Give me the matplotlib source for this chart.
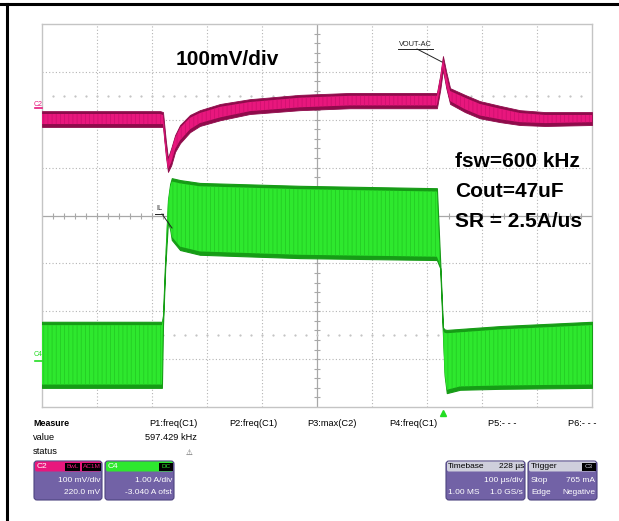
import numpy as np
import matplotlib
matplotlib.use('Agg')
import matplotlib.pyplot as plt
from matplotlib.patches import FancyBboxPatch, Rectangle
from matplotlib.lines import Line2D

# scope settings
c2_offset_mv = 220.0      # 100 mV/div, 220.0 mV offset
c2_scale_mv = 100.0
c4_offset_a = -3.040      # 1.00 A/div
c4_scale_a = 1.0
trig_t = 729              # trigger position, us from left edge

# C2 (VOUT-AC) envelope, time in us, values in mV
vout_t = [0, 215, 220, 225, 229, 235, 242, 251, 269, 287, 324, 378, 469, 560,
          718, 724, 729, 735, 742, 769, 796, 833, 869, 915, 1000]
vout_hi = [-2, -2, -4, -62, -100, -79, -52, -31, -10, 0, 13, 23, 32, 36,
           36, 73, 113, 80, 46, 32, 19, 9, 0, -4, -4]
vout_lo = [-35, -35, -35, -94, -129, -115, -87, -69, -46, -33, -21, -8, 0, 4,
           4, 42, 84, 46, 13, -4, -17, -25, -31, -33, -31]

# C4 (IL) envelope, time in us, values in A
il_t = [0, 218, 220, 224, 229, 233, 236, 251, 287, 469, 718, 724, 729, 732,
        736, 760, 833, 1000]
il_hi = [0.82, 0.82, 0.95, 2.11, 3.36, 3.70, 3.82, 3.78, 3.72, 3.66, 3.61,
         2.07, 0.70, 0.66, 0.65, 0.67, 0.73, 0.82]
il_lo = [-0.56, -0.56, 0.75, 1.95, 2.90, 2.75, 2.53, 2.32, 2.22, 2.15, 2.11,
         1.94, 0.55, -0.30, -0.67, -0.60, -0.58, -0.56]

measure_names = ['P1:freq(C1)', 'P2:freq(C1)', 'P3:max(C2)', 'P4:freq(C1)', 'P5:- - -', 'P6:- - -']
measure_vals = ['597.429 kHz', '', '', '', '', '']

W, H = 619, 521
fig = plt.figure(figsize=(W / 100, H / 100), dpi=100)
fig.patch.set_facecolor('white')

# plot grid area in pixels: x 42..592, y 24..407
x0, x1, y0, y1 = 42, 592, 24, 407
ax = fig.add_axes([x0 / W, 1 - y1 / H, (x1 - x0) / W, (y1 - y0) / H])
ax.set_xlim(0, 1000)
ax.set_ylim(-4, 4)
ax.set_xticks([])
ax.set_yticks([])
for s in ax.spines.values():
    s.set_color('#c4c4c4')
    s.set_linewidth(1.0)

grid_kw = dict(color='#b4b4b4', lw=0.8, ls=(0, (1, 2)), zorder=1)
for t in range(100, 1000, 100):
    if t != 500:
        ax.axvline(t, **grid_kw)
for d in [-3, -2, -1, 1, 2, 3]:
    ax.axhline(d, **grid_kw)
ax.axhline(0, color='#a8a8a8', lw=0.9, zorder=1)
ax.axvline(500, color='#a8a8a8', lw=0.9, zorder=1)
minor_x = np.arange(20, 1000, 20)
minor_y = np.arange(-3.8, 4.0, 0.2)
ax.plot(minor_x, np.zeros_like(minor_x), ls='none', marker='|', ms=4, mew=0.8, color='#a8a8a8', zorder=1)
ax.plot(np.full_like(minor_y, 500), minor_y, ls='none', marker='_', ms=4, mew=0.8, color='#a8a8a8', zorder=1)
# sparse reference dots at +/-2.5 div
ax.plot(minor_x, np.full_like(minor_x, 2.5, dtype=float), ls='none', marker='s', ms=0.6, color='#c4c4c4', zorder=1)
ax.plot(minor_x, np.full_like(minor_x, -2.5, dtype=float), ls='none', marker='s', ms=0.6, color='#c4c4c4', zorder=1)

plt.rcParams['hatch.linewidth'] = 0.6

# C2 trace
vt = np.array(vout_t, dtype=float)
vh = np.array(vout_hi) / c2_scale_mv + c2_offset_mv / c2_scale_mv
vl = np.array(vout_lo) / c2_scale_mv + c2_offset_mv / c2_scale_mv
ax.fill_between(vt, vl, vh, color='#8f0b4b', lw=0.6, zorder=3)
ax.fill_between(vt, vl + 0.06, vh - 0.06, facecolor='#e8177d', edgecolor='#d01070',
                hatch='||||', lw=0, zorder=4)

# C4 trace
it = np.array(il_t, dtype=float)
ih = (np.array(il_hi) + c4_offset_a) / c4_scale_a
il = (np.array(il_lo) + c4_offset_a) / c4_scale_a
ax.fill_between(it, il, ih, color='#169c16', lw=0.8, zorder=3)
ax.fill_between(it, il + 0.07, ih - 0.07, facecolor='#2ee82e', edgecolor='#24cc24',
                hatch='||||', lw=0, zorder=4)

# trigger marker
ax.plot([trig_t], [-4.12], marker='^', ms=4.5, color='#22dd22', clip_on=False, zorder=5)

# overlay in pixel coordinates
ov = fig.add_axes([0, 0, 1, 1], zorder=10)
ov.set_xlim(0, W)
ov.set_ylim(H, 0)
ov.axis('off')

ov.add_line(Line2D([0, W], [4, 4], color='black', lw=2.2))
ov.add_line(Line2D([7, 7], [4, H], color='black', lw=2.2))

big = dict(fontfamily='Liberation Sans', fontweight='bold', fontsize=15, color='black')
ov.text(176, 65, '100mV/div', va='baseline', **big)
ov.text(455, 167, 'fsw=600 kHz', va='baseline', **big)
ov.text(455, 197, 'Cout=47uF', va='baseline', **big)
ov.text(455, 227, 'SR = 2.5A/us', va='baseline', **big)

small = dict(fontfamily='Liberation Sans', fontsize=6.7)
tiny = dict(fontfamily='Liberation Sans', fontsize=5.3, color='#222222')
# VOUT-AC label
ov.text(399, 44, 'VOUT-AC', va='center', ha='left', **tiny)
ov.add_line(Line2D([398, 433], [49, 49], color='#222222', lw=0.7))
ov.add_line(Line2D([417, 442], [49, 62], color='#222222', lw=0.7))
# IL label
ov.text(156, 209, 'IL', va='center', ha='left', **tiny)
ov.add_line(Line2D([155, 163], [214, 214], color='#222222', lw=0.7))
ov.add_line(Line2D([162, 172], [214, 228], color='#222222', lw=0.7))

# channel markers
ov.text(34, 104, 'C2', va='center', ha='left', color='#e8177d', fontsize=5, fontfamily='Liberation Sans')
ov.add_line(Line2D([35, 42], [108, 108], color='#e8177d', lw=1.2))
ov.text(34, 355, 'C4', va='center', ha='left', color='#22dd22', fontsize=5, fontfamily='Liberation Sans')
ov.add_line(Line2D([35, 42], [361, 361], color='#22dd22', lw=1.2))

# measure table
ov.text(33, 424, 'Measure', va='center', fontweight='bold', fontfamily='Liberation Sans', fontsize=6.4)
ov.text(33, 438, 'value', va='center', **small)
ov.text(33, 452, 'status', va='center', **small)
for i, (nm, vv) in enumerate(zip(measure_names, measure_vals)):
    xr = 197 + 80 * i
    ov.text(xr, 424, nm, va='center', ha='right', **small)
    if vv:
        ov.text(xr, 438, vv, va='center', ha='right', **small)
ov.text(189, 452, '\u26a0', va='center', ha='center', fontsize=5.5, color='#555555', fontfamily='DejaVu Sans')

purple = '#7262a6'
bsmall = dict(fontfamily='Liberation Sans', fontsize=6.0)


def badge(xl, xr, head_color):
    ov.add_patch(FancyBboxPatch((xl, 461), xr - xl, 39, boxstyle='round,pad=0,rounding_size=3',
                                facecolor=purple, edgecolor='#4e4480', lw=0.8))
    ov.add_patch(FancyBboxPatch((xl + 1, 461.5), xr - xl - 2, 10, boxstyle='round,pad=0,rounding_size=2',
                                facecolor=head_color, edgecolor='none'))


def tag(xl, xr, txt, fg):
    ov.add_patch(Rectangle((xl, 462.5), xr - xl, 8, facecolor='black', edgecolor='none'))
    ov.text((xl + xr) / 2, 466.5, txt, ha='center', va='center', color=fg,
            fontfamily='Liberation Sans', fontsize=4.6)


badge(34, 102, '#e8177d')
ov.text(37, 466.5, 'C2', va='center', color='white', **bsmall)
tag(65, 80, 'BwL', '#e8177d')
tag(82, 101, 'AC1M', '#e8177d')
ov.text(100, 480, '100 mV/div', va='center', ha='right', color='white', **bsmall)
ov.text(100, 493, '220.0 mV', va='center', ha='right', color='white', **bsmall)

badge(105, 174, '#2ee82e')
ov.text(108, 466.5, 'C4', va='center', color='white', **bsmall)
tag(159, 173, 'DC', '#2ee82e')
ov.text(172, 480, '1.00 A/div', va='center', ha='right', color='white', **bsmall)
ov.text(172, 493, '-3.040 A ofst', va='center', ha='right', color='white', **bsmall)

badge(446, 525, '#cfcfdc')
ov.text(448, 466.5, 'Timebase', va='center', color='black', **bsmall)
ov.text(524, 466.5, '228 \u00b5s', va='center', ha='right', color='black', **bsmall)
ov.text(523, 480, '100 \u00b5s/div', va='center', ha='right', color='white', **bsmall)
ov.text(448, 493, '1.00 MS', va='center', ha='left', color='white', **bsmall)
ov.text(523, 493, '1.0 GS/s', va='center', ha='right', color='white', **bsmall)

badge(528, 597, '#cfcfdc')
ov.text(531, 466.5, 'Trigger', va='center', color='black', **bsmall)
tag(582, 596, 'C3', '#cfcfdc')
ov.text(531, 480, 'Stop', va='center', color='white', **bsmall)
ov.text(595, 480, '765 mA', va='center', ha='right', color='white', **bsmall)
ov.text(531, 493, 'Edge', va='center', color='white', **bsmall)
ov.text(595, 493, 'Negative', va='center', ha='right', color='white', **bsmall)

fig.savefig('out.png', dpi=100)
